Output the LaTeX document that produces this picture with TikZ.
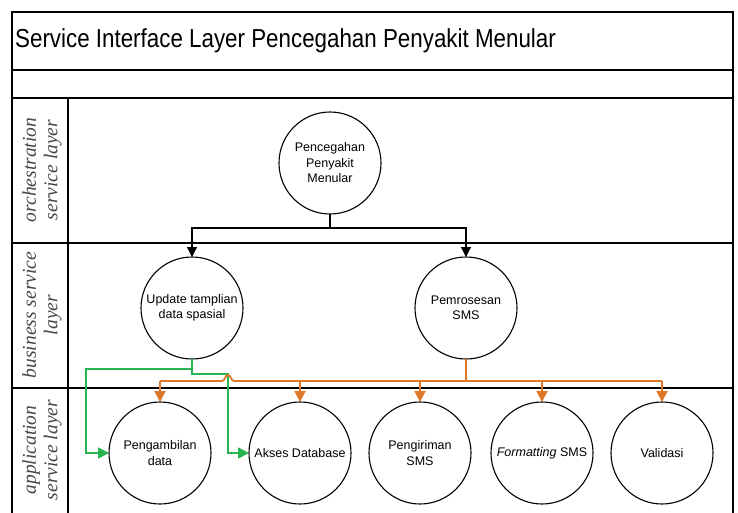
\documentclass[tikz,border=0pt]{standalone}
\usepackage{fontspec}
\setmainfont{Liberation Sans}
\newfontfamily\titlefont[FakeStretch=0.86]{Liberation Sans}
\newfontfamily\lanefont{Liberation Serif}
\usetikzlibrary{arrows.meta}
\definecolor{orangeC}{RGB}{222,120,40}
\definecolor{greenC}{RGB}{40,180,80}
\definecolor{laneC}{RGB}{70,70,70}
\begin{document}
\begin{tikzpicture}[x=1pt,y=-1pt,
  svc/.style={circle,draw=black,line width=1.1pt,minimum size=102pt,inner sep=0pt,outer sep=0pt,align=center,font=\fontsize{12.5}{15.5}\selectfont},
  frame/.style={draw=black,line width=1.3pt},
  blk/.style={draw=black,line width=1.2pt,-{Triangle[length=10pt,width=10pt]}},
  orgline/.style={draw=orangeC,line width=1.8pt},
  org/.style={orgline,-{Triangle[length=11pt,width=11pt]}},
  grn/.style={draw=greenC,line width=1.8pt,-{Triangle[length=11pt,width=11pt]}},
  lane/.style={rotate=90,align=center,font=\lanefont\itshape\fontsize{19.5}{21.5}\selectfont,text=laneC}]
\useasboundingbox (0,0) rectangle (738,513);
% frame
\draw[frame] (12,513) -- (12,12) -- (733,12) -- (733,513);
\draw[frame] (12,70) -- (733,70);
\draw[frame] (12,98) -- (733,98);
\draw[frame] (12,243) -- (733,243);
\draw[frame] (12,388) -- (733,388);
\draw[frame] (68,98) -- (68,513);
% title
\node[anchor=west,inner sep=3pt,font=\titlefont\fontsize{26}{30}\selectfont] (title) at (12,41) {Service Interface Layer Pencegahan Penyakit Menular};
% lane labels
\node[lane] (l1) at (42,170) {orchestration\\service layer};
\node[lane] (l2) at (42,315) {business service\\layer};
\node[lane] (l3) at (42,450) {application\\service layer};
% services
\node[svc] (ppm) at (330,163) {Pencegahan\\Penyakit\\Menular};
\node[svc] (upd) at (192,308) {Update tamplian\\data spasial};
\node[svc] (sms) at (466,308) {Pemrosesan\\SMS};
\node[svc] (amb) at (160,453) {Pengambilan\\data};
\node[svc] (db) at (300,453) {Akses Database};
\node[svc] (kir) at (420,453) {Pengiriman\\SMS};
\node[svc] (fmt) at (542,453) {\textit{Formatting} SMS};
\node[svc] (val) at (662,453) {Validasi};
% black connectors
\coordinate (bj) at (330,228);
\draw[blk] (ppm.south) -- (bj) -| (upd.north);
\draw[blk] (bj) -| (sms.north);
% green connectors
\draw[grn] (upd.south) -- ++(0,10) -- ++(-106,0) |- (amb.west);
\draw[grn] (upd.south) -- ++(0,15) -- ++(36,0) |- (db.west);
% orange connectors
\coordinate (oj) at (466,381);
\draw[orgline] (sms.south) -- (oj);
\draw[orgline] (val.north |- oj) -- (234,381) .. controls (231,381) and (231,375) .. (228,375) .. controls (225,375) and (225,381) .. (222,381) -- (amb.north |- oj);
\draw[org] (amb.north |- oj) -- (amb.north);
\draw[org] (db.north |- oj) -- (db.north);
\draw[org] (kir.north |- oj) -- (kir.north);
\draw[org] (fmt.north |- oj) -- (fmt.north);
\draw[org] (val.north |- oj) -- (val.north);
\end{tikzpicture}
\end{document}
